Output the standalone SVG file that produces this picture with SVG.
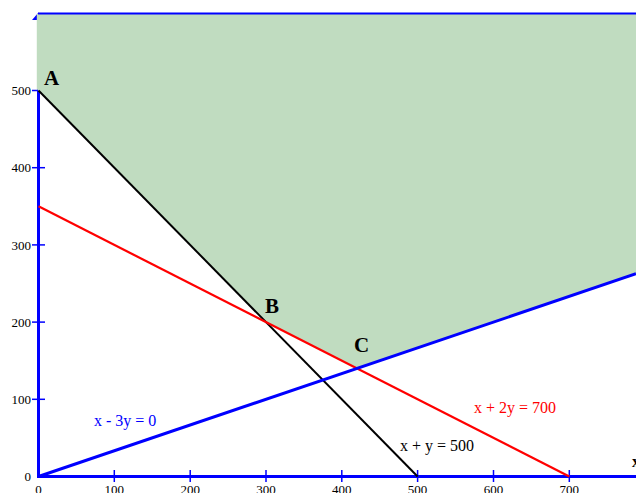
<svg xmlns="http://www.w3.org/2000/svg" width="636" height="493" viewBox="0 0 636 493">
<style>
.ax{stroke:#0000ff;stroke-width:3;fill:none}
.tk{stroke:#0000ff;stroke-width:1.5}
.num{font-family:"Liberation Serif",serif;font-size:13px;fill:#000}
.pt{font-family:"Liberation Serif",serif;font-size:21px;font-weight:bold;fill:#000}
.lbl{font-family:"Liberation Serif",serif;font-size:16px}
</style>
<rect width="636" height="493" fill="#fff"/>
<g id="axes">
<polygon points="32,20 38.5,12.5 38.5,20" fill="#0000ff"/>
<line class="ax" x1="38.5" y1="14" x2="38.5" y2="477"/>
<line class="ax" x1="37" y1="476.5" x2="636" y2="476.5"/>
<g class="tk">
<line x1="32" y1="399.3" x2="45" y2="399.3"/>
<line x1="32" y1="322.1" x2="45" y2="322.1"/>
<line x1="32" y1="244.9" x2="45" y2="244.9"/>
<line x1="32" y1="167.7" x2="45" y2="167.7"/>
<line x1="32" y1="90.5" x2="45" y2="90.5"/>
<line x1="114.3" y1="470" x2="114.3" y2="482"/>
<line x1="190.2" y1="470" x2="190.2" y2="482"/>
<line x1="266" y1="470" x2="266" y2="482"/>
<line x1="341.8" y1="470" x2="341.8" y2="482"/>
<line x1="417.6" y1="470" x2="417.6" y2="482"/>
<line x1="493.5" y1="470" x2="493.5" y2="482"/>
<line x1="569.3" y1="470" x2="569.3" y2="482"/>
</g>
<g class="num" text-anchor="end">
<text x="31" y="481">0</text>
<text x="31" y="404">100</text>
<text x="31" y="327">200</text>
<text x="31" y="250">300</text>
<text x="31" y="172">400</text>
<text x="31" y="95">500</text>
</g>
<g class="num" text-anchor="middle">
<text x="38.5" y="494">0</text>
<text x="114.3" y="494">100</text>
<text x="190.2" y="494">200</text>
<text x="266" y="494">300</text>
<text x="341.8" y="494">400</text>
<text x="417.6" y="494">500</text>
<text x="493.5" y="494">600</text>
<text x="569.3" y="494">700</text>
</g>
<text x="632" y="467" font-family="Liberation Serif, serif" font-size="16" font-weight="bold">x</text>
</g>
<g id="feasible-region">
<polygon points="36.8,14 636,14 636,273.7 357,368.4 266,322.1 36.8,89" fill="#c0dcc0"/>
<line x1="38" y1="13.5" x2="636" y2="13.5" stroke="#0000ff" stroke-width="2"/>
</g>
<g id="connectors">
<line x1="38.5" y1="90.5" x2="417.6" y2="476.5" stroke="#000" stroke-width="2"/>
<line x1="38.5" y1="206.3" x2="569.3" y2="476.5" stroke="#ff0000" stroke-width="2.2"/>
<line x1="38.5" y1="476.5" x2="636" y2="273.7" stroke="#0000ff" stroke-width="3"/>
</g>
<g id="labels">
<text class="pt" x="44" y="85">A</text>
<text class="pt" x="265" y="313">B</text>
<text class="pt" x="354" y="352">C</text>
<text class="lbl" x="94" y="426" fill="#0000ff">x - 3y = 0</text>
<text class="lbl" x="474" y="413" fill="#ff0000">x + 2y = 700</text>
<text class="lbl" x="400" y="451" fill="#000">x + y = 500</text>
</g>
</svg>
